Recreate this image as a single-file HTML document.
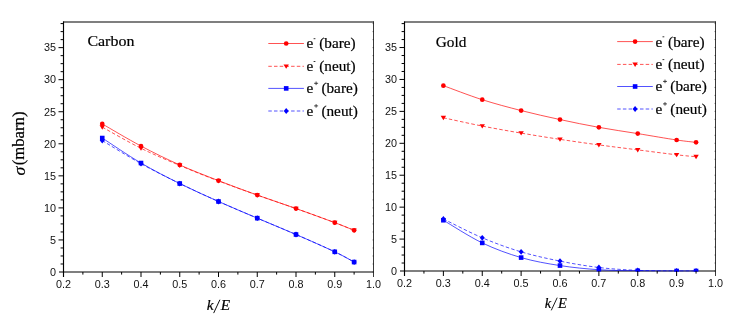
<!DOCTYPE html>
<html><head><meta charset="utf-8"><title>chart</title>
<style>
html,body{margin:0;padding:0;background:#fff;}
body{width:747px;height:329px;overflow:hidden;}
svg{display:block;will-change:transform;}
.ax{stroke:#000;stroke-width:1.15;fill:none;}
.axh{stroke:#000;stroke-width:1.1;fill:none;}
.axr{stroke:#222;stroke-width:0.9;fill:none;}
.tk{stroke:#000;stroke-width:1;fill:none;}
.tkr{stroke:#000;stroke-width:0.6;fill:none;}
.tl{font-family:"Liberation Sans",sans-serif;font-size:10.8px;fill:#111;}
.sf{font-family:"Liberation Serif",serif;font-size:15.50px;fill:#000;stroke:#000;stroke-width:0.2px;}
.it{font-style:italic;}
</style></head><body>
<svg width="747" height="329" viewBox="0 0 747 329">
<rect width="747" height="329" fill="#fff"/>
<path d="M63.00,22.00 H374.00" class="axh"/>
<path d="M59.00,272.00 H374.00" class="axh"/>
<path d="M63.50,21.50 V277.00" class="ax"/>
<path d="M373.50,21.50 V277.00" class="axr"/>
<clipPath id="c63"><rect x="63.50" y="22.00" width="310.00" height="250.60"/></clipPath>
<g clip-path="url(#c63)">
<path d="M102.25,123.92 C108.71,127.61 128.08,139.20 141.00,146.04 C153.92,152.88 166.83,159.18 179.75,164.95 C192.67,170.72 205.58,175.63 218.50,180.65 C231.42,185.68 244.33,190.43 257.25,195.08 C270.17,199.72 283.08,203.94 296.00,208.54 C308.92,213.13 325.06,219.01 334.75,222.64 C344.44,226.27 350.90,229.05 354.12,230.33" fill="none" stroke="#ff0000" stroke-width="0.68"/>
<circle cx="102.25" cy="123.92" r="2.35" fill="#ff0000"/>
<circle cx="141.00" cy="146.04" r="2.35" fill="#ff0000"/>
<circle cx="179.75" cy="164.95" r="2.35" fill="#ff0000"/>
<circle cx="218.50" cy="180.65" r="2.35" fill="#ff0000"/>
<circle cx="257.25" cy="195.08" r="2.35" fill="#ff0000"/>
<circle cx="296.00" cy="208.54" r="2.35" fill="#ff0000"/>
<circle cx="334.75" cy="222.64" r="2.35" fill="#ff0000"/>
<circle cx="354.12" cy="230.33" r="2.35" fill="#ff0000"/>
<path d="M102.25,127.13 C108.71,130.65 128.08,141.89 141.00,148.28 C153.92,154.67 166.83,160.01 179.75,165.46 C192.67,170.91 205.58,176.04 218.50,180.97 C231.42,185.91 244.33,190.48 257.25,195.08 C270.17,199.67 283.08,203.94 296.00,208.54 C308.92,213.13 325.06,219.01 334.75,222.64 C344.44,226.27 350.90,229.05 354.12,230.33" fill="none" stroke="#ff0000" stroke-width="0.68" stroke-dasharray="3.5 2.2"/>
<path d="M99.55,125.23 L104.95,125.23 L102.25,129.63 Z" fill="#ff0000"/>
<path d="M138.30,146.38 L143.70,146.38 L141.00,150.78 Z" fill="#ff0000"/>
<path d="M177.05,163.56 L182.45,163.56 L179.75,167.96 Z" fill="#ff0000"/>
<path d="M215.80,179.07 L221.20,179.07 L218.50,183.47 Z" fill="#ff0000"/>
<path d="M254.55,193.18 L259.95,193.18 L257.25,197.58 Z" fill="#ff0000"/>
<path d="M293.30,206.64 L298.70,206.64 L296.00,211.04 Z" fill="#ff0000"/>
<path d="M332.05,220.74 L337.45,220.74 L334.75,225.14 Z" fill="#ff0000"/>
<path d="M351.43,228.43 L356.82,228.43 L354.12,232.83 Z" fill="#ff0000"/>
<path d="M102.25,138.03 C108.71,142.19 128.08,155.44 141.00,163.03 C153.92,170.61 166.83,177.13 179.75,183.54 C192.67,189.95 205.58,195.72 218.50,201.49 C231.42,207.26 244.33,212.65 257.25,218.15 C270.17,223.66 283.08,228.89 296.00,234.50 C308.92,240.11 325.06,247.21 334.75,251.81 C344.44,256.40 350.90,260.35 354.12,262.06" fill="none" stroke="#0000ff" stroke-width="0.68"/>
<rect x="99.95" y="135.73" width="4.60" height="4.60" fill="#0000ff"/>
<rect x="138.70" y="160.73" width="4.60" height="4.60" fill="#0000ff"/>
<rect x="177.45" y="181.24" width="4.60" height="4.60" fill="#0000ff"/>
<rect x="216.20" y="199.19" width="4.60" height="4.60" fill="#0000ff"/>
<rect x="254.95" y="215.85" width="4.60" height="4.60" fill="#0000ff"/>
<rect x="293.70" y="232.20" width="4.60" height="4.60" fill="#0000ff"/>
<rect x="332.45" y="249.51" width="4.60" height="4.60" fill="#0000ff"/>
<rect x="351.82" y="259.76" width="4.60" height="4.60" fill="#0000ff"/>
<path d="M102.25,140.59 C108.71,144.44 128.08,156.51 141.00,163.67 C153.92,170.82 166.83,177.24 179.75,183.54 C192.67,189.84 205.58,195.72 218.50,201.49 C231.42,207.26 244.33,212.65 257.25,218.15 C270.17,223.66 283.08,228.89 296.00,234.50 C308.92,240.11 325.06,247.21 334.75,251.81 C344.44,256.40 350.90,260.35 354.12,262.06" fill="none" stroke="#0000ff" stroke-width="0.68" stroke-dasharray="3.5 2.2"/>
<path d="M102.25,137.69 L104.75,140.59 L102.25,143.49 L99.75,140.59 Z" fill="#0000ff"/>
<path d="M141.00,160.77 L143.50,163.67 L141.00,166.57 L138.50,163.67 Z" fill="#0000ff"/>
<path d="M179.75,180.64 L182.25,183.54 L179.75,186.44 L177.25,183.54 Z" fill="#0000ff"/>
<path d="M218.50,198.59 L221.00,201.49 L218.50,204.39 L216.00,201.49 Z" fill="#0000ff"/>
<path d="M257.25,215.25 L259.75,218.15 L257.25,221.05 L254.75,218.15 Z" fill="#0000ff"/>
<path d="M296.00,231.60 L298.50,234.50 L296.00,237.40 L293.50,234.50 Z" fill="#0000ff"/>
<path d="M334.75,248.91 L337.25,251.81 L334.75,254.71 L332.25,251.81 Z" fill="#0000ff"/>
<path d="M354.12,259.16 L356.62,262.06 L354.12,264.96 L351.62,262.06 Z" fill="#0000ff"/>
</g>
<path d="M372.60,272.00 H373.50" class="tkr"/>
<text x="56.00" y="275.80" class="tl" text-anchor="end">0</text>
<path d="M60.60,263.99 H63.50" class="tk"/>
<path d="M372.60,263.99 H373.50" class="tkr"/>
<path d="M60.60,255.97 H63.50" class="tk"/>
<path d="M372.60,255.97 H373.50" class="tkr"/>
<path d="M60.60,247.96 H63.50" class="tk"/>
<path d="M372.60,247.96 H373.50" class="tkr"/>
<path d="M58.50,239.95 H63.50" class="tk"/>
<path d="M372.60,239.95 H373.50" class="tkr"/>
<text x="56.00" y="243.75" class="tl" text-anchor="end">5</text>
<path d="M60.60,231.94 H63.50" class="tk"/>
<path d="M372.60,231.94 H373.50" class="tkr"/>
<path d="M60.60,223.92 H63.50" class="tk"/>
<path d="M372.60,223.92 H373.50" class="tkr"/>
<path d="M60.60,215.91 H63.50" class="tk"/>
<path d="M372.60,215.91 H373.50" class="tkr"/>
<path d="M58.50,207.90 H63.50" class="tk"/>
<path d="M372.60,207.90 H373.50" class="tkr"/>
<text x="56.00" y="211.70" class="tl" text-anchor="end">10</text>
<path d="M60.60,199.88 H63.50" class="tk"/>
<path d="M372.60,199.88 H373.50" class="tkr"/>
<path d="M60.60,191.87 H63.50" class="tk"/>
<path d="M372.60,191.87 H373.50" class="tkr"/>
<path d="M60.60,183.86 H63.50" class="tk"/>
<path d="M372.60,183.86 H373.50" class="tkr"/>
<path d="M58.50,175.85 H63.50" class="tk"/>
<path d="M372.60,175.85 H373.50" class="tkr"/>
<text x="56.00" y="179.65" class="tl" text-anchor="end">15</text>
<path d="M60.60,167.83 H63.50" class="tk"/>
<path d="M372.60,167.83 H373.50" class="tkr"/>
<path d="M60.60,159.82 H63.50" class="tk"/>
<path d="M372.60,159.82 H373.50" class="tkr"/>
<path d="M60.60,151.81 H63.50" class="tk"/>
<path d="M372.60,151.81 H373.50" class="tkr"/>
<path d="M58.50,143.79 H63.50" class="tk"/>
<path d="M372.60,143.79 H373.50" class="tkr"/>
<text x="56.00" y="147.59" class="tl" text-anchor="end">20</text>
<path d="M60.60,135.78 H63.50" class="tk"/>
<path d="M372.60,135.78 H373.50" class="tkr"/>
<path d="M60.60,127.77 H63.50" class="tk"/>
<path d="M372.60,127.77 H373.50" class="tkr"/>
<path d="M60.60,119.76 H63.50" class="tk"/>
<path d="M372.60,119.76 H373.50" class="tkr"/>
<path d="M58.50,111.74 H63.50" class="tk"/>
<path d="M372.60,111.74 H373.50" class="tkr"/>
<text x="56.00" y="115.54" class="tl" text-anchor="end">25</text>
<path d="M60.60,103.73 H63.50" class="tk"/>
<path d="M372.60,103.73 H373.50" class="tkr"/>
<path d="M60.60,95.72 H63.50" class="tk"/>
<path d="M372.60,95.72 H373.50" class="tkr"/>
<path d="M60.60,87.71 H63.50" class="tk"/>
<path d="M372.60,87.71 H373.50" class="tkr"/>
<path d="M58.50,79.69 H63.50" class="tk"/>
<path d="M372.60,79.69 H373.50" class="tkr"/>
<text x="56.00" y="83.49" class="tl" text-anchor="end">30</text>
<path d="M60.60,71.68 H63.50" class="tk"/>
<path d="M372.60,71.68 H373.50" class="tkr"/>
<path d="M60.60,63.67 H63.50" class="tk"/>
<path d="M372.60,63.67 H373.50" class="tkr"/>
<path d="M60.60,55.65 H63.50" class="tk"/>
<path d="M372.60,55.65 H373.50" class="tkr"/>
<path d="M58.50,47.64 H63.50" class="tk"/>
<path d="M372.60,47.64 H373.50" class="tkr"/>
<text x="56.00" y="51.44" class="tl" text-anchor="end">35</text>
<path d="M60.60,39.63 H63.50" class="tk"/>
<path d="M372.60,39.63 H373.50" class="tkr"/>
<path d="M60.60,31.62 H63.50" class="tk"/>
<path d="M372.60,31.62 H373.50" class="tkr"/>
<path d="M60.60,23.60 H63.50" class="tk"/>
<path d="M372.60,23.60 H373.50" class="tkr"/>
<text x="63.50" y="288.00" class="tl" text-anchor="middle">0.2</text>
<path d="M82.88,272.00 V274.60" class="tk"/>
<path d="M102.25,272.00 V277.00" class="tk"/>
<text x="102.25" y="288.00" class="tl" text-anchor="middle">0.3</text>
<path d="M121.62,272.00 V274.60" class="tk"/>
<path d="M141.00,272.00 V277.00" class="tk"/>
<text x="141.00" y="288.00" class="tl" text-anchor="middle">0.4</text>
<path d="M160.38,272.00 V274.60" class="tk"/>
<path d="M179.75,272.00 V277.00" class="tk"/>
<text x="179.75" y="288.00" class="tl" text-anchor="middle">0.5</text>
<path d="M199.12,272.00 V274.60" class="tk"/>
<path d="M218.50,272.00 V277.00" class="tk"/>
<text x="218.50" y="288.00" class="tl" text-anchor="middle">0.6</text>
<path d="M237.88,272.00 V274.60" class="tk"/>
<path d="M257.25,272.00 V277.00" class="tk"/>
<text x="257.25" y="288.00" class="tl" text-anchor="middle">0.7</text>
<path d="M276.62,272.00 V274.60" class="tk"/>
<path d="M296.00,272.00 V277.00" class="tk"/>
<text x="296.00" y="288.00" class="tl" text-anchor="middle">0.8</text>
<path d="M315.38,272.00 V274.60" class="tk"/>
<path d="M334.75,272.00 V277.00" class="tk"/>
<text x="334.75" y="288.00" class="tl" text-anchor="middle">0.9</text>
<path d="M354.12,272.00 V274.60" class="tk"/>
<text x="373.50" y="288.00" class="tl" text-anchor="middle">1.0</text>
<text transform="translate(87.40,45.60) scale(1.0300,1)" class="sf" text-anchor="start">Carbon</text>
<path d="M268.30,43.50 H303.90" fill="none" stroke="#ff0000" stroke-width="0.68"/>
<circle cx="286.20" cy="43.50" r="2.35" fill="#ff0000"/>
<text transform="translate(306.50,48.40) scale(0.9850,1)" class="sf" text-anchor="start">e</text>
<path d="M313.60,38.70 h1.8" stroke="#000" stroke-width="0.8" fill="none"/>
<text transform="translate(319.20,48.40) scale(0.9850,1)" class="sf" text-anchor="start">(bare)</text>
<path d="M268.30,66.30 H303.90" fill="none" stroke="#ff0000" stroke-width="0.68" stroke-dasharray="3.5 2.2"/>
<path d="M283.50,64.40 L288.90,64.40 L286.20,68.80 Z" fill="#ff0000"/>
<text transform="translate(306.50,71.20) scale(0.9850,1)" class="sf" text-anchor="start">e</text>
<path d="M313.60,61.50 h1.8" stroke="#000" stroke-width="0.8" fill="none"/>
<text transform="translate(319.20,71.20) scale(0.9850,1)" class="sf" text-anchor="start">(neut)</text>
<path d="M268.30,88.40 H303.90" fill="none" stroke="#0000ff" stroke-width="0.68"/>
<rect x="283.90" y="86.10" width="4.60" height="4.60" fill="#0000ff"/>
<text transform="translate(306.50,93.30) scale(0.9850,1)" class="sf" text-anchor="start">e</text>
<path d="M314.10,83.30 h4 M316.10,81.50 v3.6" stroke="#000" stroke-width="0.7" fill="none"/>
<text transform="translate(321.40,93.30) scale(0.9850,1)" class="sf" text-anchor="start">(bare)</text>
<path d="M268.30,111.00 H303.90" fill="none" stroke="#0000ff" stroke-width="0.68" stroke-dasharray="3.5 2.2"/>
<path d="M286.20,108.10 L288.70,111.00 L286.20,113.90 L283.70,111.00 Z" fill="#0000ff"/>
<text transform="translate(306.50,115.90) scale(0.9850,1)" class="sf" text-anchor="start">e</text>
<path d="M314.10,105.90 h4 M316.10,104.10 v3.6" stroke="#000" stroke-width="0.7" fill="none"/>
<text transform="translate(321.40,115.90) scale(0.9850,1)" class="sf" text-anchor="start">(neut)</text>
<g transform="translate(206.96,310.30) scale(1.000)"><text x="-0.3" y="0" class="sf it" style="font-size:15.3px">k</text><path d="M6.7,2.8 L12.95,-10.6" stroke="#000" stroke-width="0.95" fill="none"/><text x="13.9" y="0" class="sf it" style="font-size:15.3px">E</text></g>
<path d="M404.00,22.00 H716.00" class="axh"/>
<path d="M400.00,271.00 H716.00" class="axh"/>
<path d="M404.50,21.50 V276.00" class="ax"/>
<path d="M715.50,21.50 V276.00" class="axr"/>
<clipPath id="c404"><rect x="404.50" y="22.00" width="311.00" height="249.60"/></clipPath>
<g clip-path="url(#c404)">
<path d="M443.38,85.65 C449.85,88.00 469.29,95.55 482.25,99.70 C495.21,103.85 508.17,107.25 521.12,110.55 C534.08,113.86 547.04,116.76 560.00,119.56 C572.96,122.36 585.92,125.01 598.88,127.35 C611.83,129.69 624.79,131.50 637.75,133.60 C650.71,135.71 666.91,138.53 676.62,139.99 C686.34,141.45 692.82,141.96 696.06,142.35" fill="none" stroke="#ff0000" stroke-width="0.68"/>
<circle cx="443.38" cy="85.65" r="2.35" fill="#ff0000"/>
<circle cx="482.25" cy="99.70" r="2.35" fill="#ff0000"/>
<circle cx="521.12" cy="110.55" r="2.35" fill="#ff0000"/>
<circle cx="560.00" cy="119.56" r="2.35" fill="#ff0000"/>
<circle cx="598.88" cy="127.35" r="2.35" fill="#ff0000"/>
<circle cx="637.75" cy="133.60" r="2.35" fill="#ff0000"/>
<circle cx="676.62" cy="139.99" r="2.35" fill="#ff0000"/>
<circle cx="696.06" cy="142.35" r="2.35" fill="#ff0000"/>
<path d="M443.38,117.77 C449.85,119.15 469.29,123.52 482.25,126.07 C495.21,128.62 508.17,130.88 521.12,133.09 C534.08,135.31 547.04,137.38 560.00,139.35 C572.96,141.32 585.92,143.15 598.88,144.90 C611.83,146.66 624.79,148.23 637.75,149.88 C650.71,151.53 666.91,153.66 676.62,154.80 C686.34,155.94 692.82,156.40 696.06,156.72" fill="none" stroke="#ff0000" stroke-width="0.68" stroke-dasharray="3.5 2.2"/>
<path d="M440.68,115.87 L446.07,115.87 L443.38,120.27 Z" fill="#ff0000"/>
<path d="M479.55,124.17 L484.95,124.17 L482.25,128.57 Z" fill="#ff0000"/>
<path d="M518.42,131.19 L523.83,131.19 L521.12,135.59 Z" fill="#ff0000"/>
<path d="M557.30,137.45 L562.70,137.45 L560.00,141.85 Z" fill="#ff0000"/>
<path d="M596.17,143.00 L601.58,143.00 L598.88,147.40 Z" fill="#ff0000"/>
<path d="M635.05,147.98 L640.45,147.98 L637.75,152.38 Z" fill="#ff0000"/>
<path d="M673.92,152.90 L679.33,152.90 L676.62,157.30 Z" fill="#ff0000"/>
<path d="M693.36,154.82 L698.76,154.82 L696.06,159.22 Z" fill="#ff0000"/>
<path d="M443.38,220.24 C449.85,224.02 469.29,236.68 482.25,242.91 C495.21,249.13 508.17,253.81 521.12,257.59 C534.08,261.37 547.04,263.55 560.00,265.57 C572.96,267.59 585.92,268.85 598.88,269.72 C611.83,270.60 624.79,270.60 637.75,270.81 C650.71,271.02 666.91,270.97 676.62,271.00 C686.34,271.03 692.82,271.00 696.06,271.00" fill="none" stroke="#0000ff" stroke-width="0.68"/>
<rect x="441.07" y="217.94" width="4.60" height="4.60" fill="#0000ff"/>
<rect x="479.95" y="240.61" width="4.60" height="4.60" fill="#0000ff"/>
<rect x="518.83" y="255.29" width="4.60" height="4.60" fill="#0000ff"/>
<rect x="557.70" y="263.27" width="4.60" height="4.60" fill="#0000ff"/>
<rect x="596.58" y="267.42" width="4.60" height="4.60" fill="#0000ff"/>
<rect x="635.45" y="268.51" width="4.60" height="4.60" fill="#0000ff"/>
<rect x="674.33" y="268.70" width="4.60" height="4.60" fill="#0000ff"/>
<rect x="693.76" y="268.70" width="4.60" height="4.60" fill="#0000ff"/>
<path d="M443.38,218.97 C449.85,222.10 469.29,232.32 482.25,237.80 C495.21,243.28 508.17,247.96 521.12,251.85 C534.08,255.73 547.04,258.50 560.00,261.10 C572.96,263.71 585.92,265.95 598.88,267.49 C611.83,269.03 624.79,269.78 637.75,270.36 C650.71,270.95 666.91,270.89 676.62,271.00 C686.34,271.11 692.82,271.00 696.06,271.00" fill="none" stroke="#0000ff" stroke-width="0.68" stroke-dasharray="3.5 2.2"/>
<path d="M443.38,216.07 L445.88,218.97 L443.38,221.87 L440.88,218.97 Z" fill="#0000ff"/>
<path d="M482.25,234.90 L484.75,237.80 L482.25,240.70 L479.75,237.80 Z" fill="#0000ff"/>
<path d="M521.12,248.95 L523.62,251.85 L521.12,254.75 L518.62,251.85 Z" fill="#0000ff"/>
<path d="M560.00,258.20 L562.50,261.10 L560.00,264.00 L557.50,261.10 Z" fill="#0000ff"/>
<path d="M598.88,264.59 L601.38,267.49 L598.88,270.39 L596.38,267.49 Z" fill="#0000ff"/>
<path d="M637.75,267.46 L640.25,270.36 L637.75,273.26 L635.25,270.36 Z" fill="#0000ff"/>
<path d="M676.62,268.10 L679.12,271.00 L676.62,273.90 L674.12,271.00 Z" fill="#0000ff"/>
<path d="M696.06,268.10 L698.56,271.00 L696.06,273.90 L693.56,271.00 Z" fill="#0000ff"/>
</g>
<path d="M714.60,271.00 H715.50" class="tkr"/>
<text x="397.00" y="274.80" class="tl" text-anchor="end">0</text>
<path d="M401.60,263.02 H404.50" class="tk"/>
<path d="M714.60,263.02 H715.50" class="tkr"/>
<path d="M401.60,255.04 H404.50" class="tk"/>
<path d="M714.60,255.04 H715.50" class="tkr"/>
<path d="M401.60,247.06 H404.50" class="tk"/>
<path d="M714.60,247.06 H715.50" class="tkr"/>
<path d="M399.50,239.08 H404.50" class="tk"/>
<path d="M714.60,239.08 H715.50" class="tkr"/>
<text x="397.00" y="242.88" class="tl" text-anchor="end">5</text>
<path d="M401.60,231.10 H404.50" class="tk"/>
<path d="M714.60,231.10 H715.50" class="tkr"/>
<path d="M401.60,223.12 H404.50" class="tk"/>
<path d="M714.60,223.12 H715.50" class="tkr"/>
<path d="M401.60,215.13 H404.50" class="tk"/>
<path d="M714.60,215.13 H715.50" class="tkr"/>
<path d="M399.50,207.15 H404.50" class="tk"/>
<path d="M714.60,207.15 H715.50" class="tkr"/>
<text x="397.00" y="210.95" class="tl" text-anchor="end">10</text>
<path d="M401.60,199.17 H404.50" class="tk"/>
<path d="M714.60,199.17 H715.50" class="tkr"/>
<path d="M401.60,191.19 H404.50" class="tk"/>
<path d="M714.60,191.19 H715.50" class="tkr"/>
<path d="M401.60,183.21 H404.50" class="tk"/>
<path d="M714.60,183.21 H715.50" class="tkr"/>
<path d="M399.50,175.23 H404.50" class="tk"/>
<path d="M714.60,175.23 H715.50" class="tkr"/>
<text x="397.00" y="179.03" class="tl" text-anchor="end">15</text>
<path d="M401.60,167.25 H404.50" class="tk"/>
<path d="M714.60,167.25 H715.50" class="tkr"/>
<path d="M401.60,159.27 H404.50" class="tk"/>
<path d="M714.60,159.27 H715.50" class="tkr"/>
<path d="M401.60,151.29 H404.50" class="tk"/>
<path d="M714.60,151.29 H715.50" class="tkr"/>
<path d="M399.50,143.31 H404.50" class="tk"/>
<path d="M714.60,143.31 H715.50" class="tkr"/>
<text x="397.00" y="147.11" class="tl" text-anchor="end">20</text>
<path d="M401.60,135.33 H404.50" class="tk"/>
<path d="M714.60,135.33 H715.50" class="tkr"/>
<path d="M401.60,127.35 H404.50" class="tk"/>
<path d="M714.60,127.35 H715.50" class="tkr"/>
<path d="M401.60,119.37 H404.50" class="tk"/>
<path d="M714.60,119.37 H715.50" class="tkr"/>
<path d="M399.50,111.38 H404.50" class="tk"/>
<path d="M714.60,111.38 H715.50" class="tkr"/>
<text x="397.00" y="115.18" class="tl" text-anchor="end">25</text>
<path d="M401.60,103.40 H404.50" class="tk"/>
<path d="M714.60,103.40 H715.50" class="tkr"/>
<path d="M401.60,95.42 H404.50" class="tk"/>
<path d="M714.60,95.42 H715.50" class="tkr"/>
<path d="M401.60,87.44 H404.50" class="tk"/>
<path d="M714.60,87.44 H715.50" class="tkr"/>
<path d="M399.50,79.46 H404.50" class="tk"/>
<path d="M714.60,79.46 H715.50" class="tkr"/>
<text x="397.00" y="83.26" class="tl" text-anchor="end">30</text>
<path d="M401.60,71.48 H404.50" class="tk"/>
<path d="M714.60,71.48 H715.50" class="tkr"/>
<path d="M401.60,63.50 H404.50" class="tk"/>
<path d="M714.60,63.50 H715.50" class="tkr"/>
<path d="M401.60,55.52 H404.50" class="tk"/>
<path d="M714.60,55.52 H715.50" class="tkr"/>
<path d="M399.50,47.54 H404.50" class="tk"/>
<path d="M714.60,47.54 H715.50" class="tkr"/>
<text x="397.00" y="51.34" class="tl" text-anchor="end">35</text>
<path d="M401.60,39.56 H404.50" class="tk"/>
<path d="M714.60,39.56 H715.50" class="tkr"/>
<path d="M401.60,31.58 H404.50" class="tk"/>
<path d="M714.60,31.58 H715.50" class="tkr"/>
<path d="M401.60,23.60 H404.50" class="tk"/>
<path d="M714.60,23.60 H715.50" class="tkr"/>
<text x="404.50" y="287.00" class="tl" text-anchor="middle">0.2</text>
<path d="M423.94,271.00 V273.60" class="tk"/>
<path d="M443.38,271.00 V276.00" class="tk"/>
<text x="443.38" y="287.00" class="tl" text-anchor="middle">0.3</text>
<path d="M462.81,271.00 V273.60" class="tk"/>
<path d="M482.25,271.00 V276.00" class="tk"/>
<text x="482.25" y="287.00" class="tl" text-anchor="middle">0.4</text>
<path d="M501.69,271.00 V273.60" class="tk"/>
<path d="M521.12,271.00 V276.00" class="tk"/>
<text x="521.12" y="287.00" class="tl" text-anchor="middle">0.5</text>
<path d="M540.56,271.00 V273.60" class="tk"/>
<path d="M560.00,271.00 V276.00" class="tk"/>
<text x="560.00" y="287.00" class="tl" text-anchor="middle">0.6</text>
<path d="M579.44,271.00 V273.60" class="tk"/>
<path d="M598.88,271.00 V276.00" class="tk"/>
<text x="598.88" y="287.00" class="tl" text-anchor="middle">0.7</text>
<path d="M618.31,271.00 V273.60" class="tk"/>
<path d="M637.75,271.00 V276.00" class="tk"/>
<text x="637.75" y="287.00" class="tl" text-anchor="middle">0.8</text>
<path d="M657.19,271.00 V273.60" class="tk"/>
<path d="M676.62,271.00 V276.00" class="tk"/>
<text x="676.62" y="287.00" class="tl" text-anchor="middle">0.9</text>
<path d="M696.06,271.00 V273.60" class="tk"/>
<text x="715.50" y="287.00" class="tl" text-anchor="middle">1.0</text>
<text transform="translate(435.80,46.50) scale(0.9850,1)" class="sf" text-anchor="start">Gold</text>
<path d="M617.20,41.60 H652.80" fill="none" stroke="#ff0000" stroke-width="0.68"/>
<circle cx="635.10" cy="41.60" r="2.35" fill="#ff0000"/>
<text transform="translate(655.40,46.50) scale(0.9850,1)" class="sf" text-anchor="start">e</text>
<path d="M662.50,36.80 h1.8" stroke="#000" stroke-width="0.8" fill="none"/>
<text transform="translate(668.10,46.50) scale(0.9850,1)" class="sf" text-anchor="start">(bare)</text>
<path d="M617.20,64.40 H652.80" fill="none" stroke="#ff0000" stroke-width="0.68" stroke-dasharray="3.5 2.2"/>
<path d="M632.40,62.50 L637.80,62.50 L635.10,66.90 Z" fill="#ff0000"/>
<text transform="translate(655.40,69.30) scale(0.9850,1)" class="sf" text-anchor="start">e</text>
<path d="M662.50,59.60 h1.8" stroke="#000" stroke-width="0.8" fill="none"/>
<text transform="translate(668.10,69.30) scale(0.9850,1)" class="sf" text-anchor="start">(neut)</text>
<path d="M617.20,86.50 H652.80" fill="none" stroke="#0000ff" stroke-width="0.68"/>
<rect x="632.80" y="84.20" width="4.60" height="4.60" fill="#0000ff"/>
<text transform="translate(655.40,91.40) scale(0.9850,1)" class="sf" text-anchor="start">e</text>
<path d="M663.00,81.40 h4 M665.00,79.60 v3.6" stroke="#000" stroke-width="0.7" fill="none"/>
<text transform="translate(670.30,91.40) scale(0.9850,1)" class="sf" text-anchor="start">(bare)</text>
<path d="M617.20,109.00 H652.80" fill="none" stroke="#0000ff" stroke-width="0.68" stroke-dasharray="3.5 2.2"/>
<path d="M635.10,106.10 L637.60,109.00 L635.10,111.90 L632.60,109.00 Z" fill="#0000ff"/>
<text transform="translate(655.40,113.90) scale(0.9850,1)" class="sf" text-anchor="start">e</text>
<path d="M663.00,103.90 h4 M665.00,102.10 v3.6" stroke="#000" stroke-width="0.7" fill="none"/>
<text transform="translate(670.30,113.90) scale(0.9850,1)" class="sf" text-anchor="start">(neut)</text>
<g transform="translate(544.96,307.70) scale(0.945)"><text x="-0.3" y="0" class="sf it" style="font-size:15.3px">k</text><path d="M6.7,2.8 L12.95,-10.6" stroke="#000" stroke-width="0.95" fill="none"/><text x="13.9" y="0" class="sf it" style="font-size:15.3px">E</text></g>
<text transform="translate(24.9,175.6) rotate(-90) scale(1.06,1)" class="sf it" style="font-size:17px">σ</text>
<text transform="translate(24.3,165.3) rotate(-90) scale(1.05,1)" class="sf" style="font-size:15.9px">(mbarn)</text>
</svg>
</body></html>
